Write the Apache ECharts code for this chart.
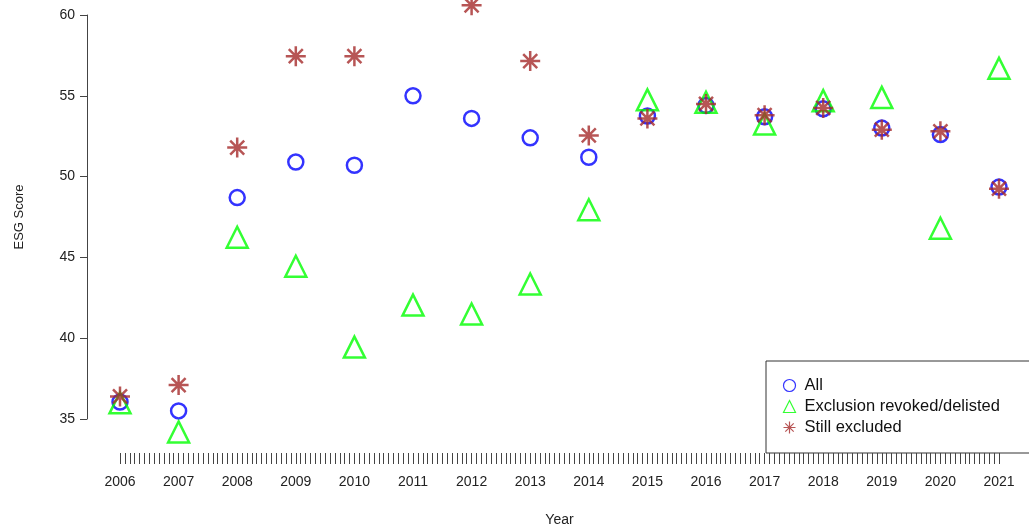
<!DOCTYPE html>
<html>
<head>
<meta charset="utf-8">
<script src="https://cdn.jsdelivr.net/npm/echarts@6/dist/echarts.min.js"></script>
<style>html,body{margin:0;background:#fff}#chart{width:1029px;height:529px}</style>
</head>
<body>
<div id="chart"></div>
<script>
var years = [2006, 2007, 2008, 2009, 2010, 2011, 2012, 2013, 2014, 2015, 2016, 2017, 2018, 2019, 2020, 2021];
var allScores = [36.05, 35.5, 48.7, 50.9, 50.7, 55.0, 53.6, 52.4, 51.2, 53.75, 54.4, 53.7, 54.2, 53.0, 52.6, 49.35];
var revokedScores = [36.0, 34.2, 46.25, 44.45, 39.45, 42.05, 41.5, 43.35, 47.95, 54.75, 54.6, 53.25, 54.7, 54.9, 46.8, 56.7];
var stillScores = [36.4, 37.1, 51.8, 57.45, 57.45, null, 60.6, 57.15, 52.55, 53.6, 54.5, 53.8, 54.25, 52.9, 52.8, 49.25];

var star = 'path://M0,-10L0,10M-10,0L10,0M-7,-7L7,7M-7,7L7,-7';

function pairs(vals) {
    return years.map(function (y, i) { return [y, vals[i]]; }).filter(function (p) { return p[1] != null; });
}

var chart = echarts.init(document.getElementById('chart'));
chart.setOption({
    animation: false,
    textStyle: {fontFamily: 'Liberation Sans, Arial, sans-serif'},
    grid: {left: 120, right: 30, top: 15, height: 404, outerBoundsMode: 'none'},
    xAxis: {
        type: 'value', min: 2006, max: 2021, interval: 1,
        offset: 34,
        name: 'Year', nameLocation: 'middle', nameGap: 60,
        nameTextStyle: {fontSize: 14, color: '#222'},
        axisLine: {show: false},
        axisTick: {show: true, length: 11, lineStyle: {color: '#444'}},
        minorTick: {show: true, splitNumber: 12, length: 11, lineStyle: {color: '#444'}},
        splitLine: {show: false},
        axisLabel: {fontSize: 14, color: '#222', margin: 22, formatter: function (v) { return String(v); }}
    },
    yAxis: {
        type: 'value', min: 35, max: 60, interval: 5,
        offset: 33,
        name: 'ESG Score', nameLocation: 'middle', nameGap: 61,
        nameTextStyle: {fontSize: 13, color: '#222'},
        axisLine: {show: true, lineStyle: {color: '#444'}},
        axisTick: {show: true, length: 7, lineStyle: {color: '#444'}},
        splitLine: {show: false},
        axisLabel: {fontSize: 14, color: '#222', margin: 12}
    },
    legend: {
        orient: 'vertical', left: 776, top: 372, itemGap: 4,
        itemWidth: 12, itemHeight: 12,
        textStyle: {fontSize: 16.5, color: '#111', padding: [0, 0, 0, 4]},
        data: [
            {name: 'All', icon: 'circle', itemStyle: {color: 'rgba(0,0,0,0)', borderColor: '#0000ff', borderWidth: 1.2}},
            {name: 'Exclusion revoked/delisted', icon: 'triangle', itemStyle: {color: 'rgba(0,0,0,0)', borderColor: '#00ff00', borderWidth: 1.2}},
            {name: 'Still excluded', icon: star, itemStyle: {color: 'none', borderColor: '#a52a2a', borderWidth: 1.2}}
        ]
    },
    graphic: [{
        type: 'rect', shape: {x: 766, y: 361, width: 280, height: 92},
        style: {fill: '#fff', stroke: '#333', lineWidth: 1}, z: -1
    }],
    series: [
        {
            name: 'All', type: 'scatter', data: pairs(allScores), clip: false,
            symbol: 'circle', symbolSize: 15,
            itemStyle: {color: 'rgba(0,0,0,0)', borderColor: '#0000ff', borderWidth: 2.5}
        },
        {
            name: 'Exclusion revoked/delisted', type: 'scatter', data: pairs(revokedScores), clip: false,
            symbol: 'triangle', symbolSize: 21,
            itemStyle: {color: 'rgba(0,0,0,0)', borderColor: '#00ff00', borderWidth: 2.5}
        },
        {
            name: 'Still excluded', type: 'scatter', data: pairs(stillScores), clip: false,
            symbol: star, symbolSize: 20,
            itemStyle: {color: 'none', borderColor: '#a52a2a', borderWidth: 2.5}
        }
    ]
});
</script>
</body>
</html>
